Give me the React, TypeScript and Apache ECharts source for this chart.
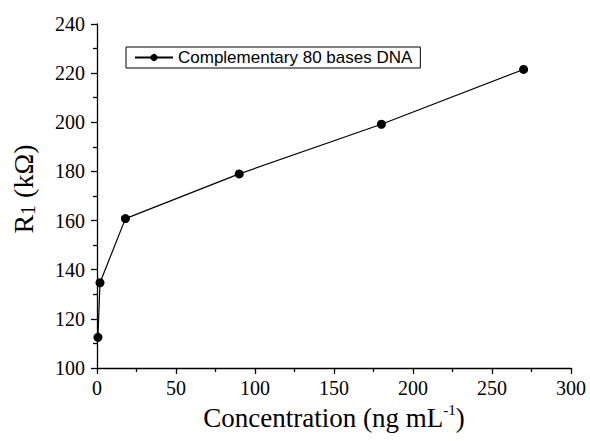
import React, { useEffect, useRef } from "react";
import * as echarts from "echarts";

const seriesName = "Complementary 80 bases DNA";
const concentration = [0.6, 1.9, 18, 90, 180, 270];
const resistance = [112.5, 134.7, 160.8, 179.0, 199.2, 221.5];
const xTicks = { min: 0, max: 300, interval: 50 };
const yTicks = { min: 100, max: 240, interval: 20 };

const serif = "Liberation Serif";
const sans = "Liberation Sans";

export default function App() {
  const ref = useRef<HTMLDivElement>(null);
  useEffect(() => {
    document.body.style.margin = "0";
    const chart = echarts.init(ref.current!, null, { renderer: "svg" });
    const data = concentration.map((x, i) => [x, resistance[i]]);
    chart.setOption({
      animation: false,
      backgroundColor: "#fff",
      grid: { left: 97, right: 19, top: 24, bottom: 73, outerBoundsMode: "none", containLabel: false },
      legend: {
        left: 126,
        top: 47,
        data: [seriesName],
        borderColor: "#000",
        borderWidth: 1,
        borderRadius: 0,
        padding: [2, 8, 2, 8],
        itemWidth: 38,
        itemHeight: 9,
        itemGap: 6,
        textStyle: { fontFamily: sans, fontSize: 17, color: "#000" },
      },
      xAxis: {
        type: "value",
        min: xTicks.min,
        max: xTicks.max,
        interval: xTicks.interval,
        name: "Concentration (ng mL{sup|-1})",
        nameLocation: "middle",
        nameGap: 34,
        nameTextStyle: {
          fontFamily: serif,
          fontSize: 27,
          color: "#000",
          rich: {
            sup: { fontFamily: serif, fontSize: 15, verticalAlign: "top", lineHeight: 30, color: "#000" },
          },
        },
        axisLine: { show: true, onZero: false, lineStyle: { color: "#000", width: 1.3 } },
        axisTick: { show: true, inside: false, length: 6, lineStyle: { color: "#000", width: 1.3 } },
        minorTick: { show: true, splitNumber: 2, length: 4, lineStyle: { color: "#000", width: 1.3 } },
        axisLabel: { fontFamily: serif, fontSize: 20, color: "#000", margin: 10 },
        splitLine: { show: false },
      },
      yAxis: {
        type: "value",
        min: yTicks.min,
        max: yTicks.max,
        interval: yTicks.interval,
        name: "R{sub|1} (kΩ)",
        nameLocation: "middle",
        nameGap: 59,
        nameTextStyle: {
          fontFamily: serif,
          fontSize: 28,
          color: "#000",
          padding: [0, 0, 0, 14],
          rich: {
            sub: { fontFamily: serif, fontSize: 20, verticalAlign: "bottom", lineHeight: 30, padding: [8, 0, 0, 0], color: "#000" },
          },
        },
        axisLine: { show: true, onZero: false, lineStyle: { color: "#000", width: 1.3 } },
        axisTick: { show: true, inside: false, length: 6, lineStyle: { color: "#000", width: 1.3 } },
        minorTick: { show: true, splitNumber: 2, length: 4, lineStyle: { color: "#000", width: 1.3 } },
        axisLabel: { fontFamily: serif, fontSize: 20, color: "#000", margin: 12 },
        splitLine: { show: false },
      },
      series: [
        {
          name: seriesName,
          type: "line",
          data,
          symbol: "circle",
          symbolSize: 9,
          clip: false,
          lineStyle: { color: "#000", width: 1.2 },
          itemStyle: { color: "#000" },
        },
      ],
    });
    return () => chart.dispose();
  }, []);
  return <div ref={ref} style={{ width: 590, height: 441 }} />;
}
